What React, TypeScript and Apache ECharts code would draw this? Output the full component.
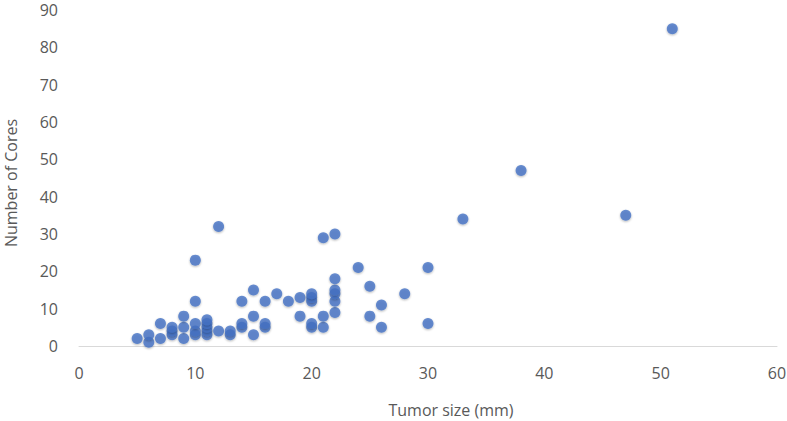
import React, { useEffect, useRef } from "react";
import * as echarts from "echarts";

const tumorSize: number[] = [
  5, 6, 6, 7, 7, 8, 8, 8, 9, 9, 9,
  10, 10, 10, 10, 10,
  11, 11, 11, 11, 11,
  12, 12, 13, 13,
  14, 14, 14, 15, 15, 15,
  16, 16, 16, 17, 18, 19, 19,
  20, 20, 20, 20, 20,
  21, 21, 21,
  22, 22, 22, 22, 22, 22,
  24, 25, 25, 26, 26, 28, 30, 30,
  33, 38, 47, 51,
];
const numberOfCores: number[] = [
  2, 1, 3, 2, 6, 3, 4, 5, 2, 5, 8,
  3, 4, 6, 12, 23,
  3, 4, 5, 6, 7,
  4, 32, 3, 4,
  5, 6, 12, 3, 8, 15,
  5, 6, 12, 14, 12, 8, 13,
  5, 6, 12, 13, 14,
  5, 8, 29,
  9, 12, 14, 15, 18, 30,
  21, 8, 16, 5, 11, 14, 6, 21,
  34, 47, 35, 85,
];

const xTitle = "Tumor size (mm)";
const yTitle = "Number of Cores";

export default function App() {
  const ref = useRef<HTMLDivElement>(null);
  useEffect(() => {
    if (!ref.current) return;
    const chart = echarts.init(ref.current, undefined, { renderer: "svg" });
    const font = "'Open Sans', 'Liberation Sans', Arial, sans-serif";
    chart.setOption({
      animation: false,
      grid: {
        left: 79,
        right: 10,
        top: 10,
        bottom: 75,
        containLabel: false,
        outerBoundsMode: "none",
      },
      xAxis: {
        type: "value",
        min: 0,
        max: 60,
        interval: 10,
        name: xTitle,
        nameLocation: "middle",
        nameGap: 56,
        nameTextStyle: {
          color: "#595959",
          fontSize: 16,
          fontFamily: font,
          padding: [0, 0, 0, 46],
        },
        axisLine: { show: true, lineStyle: { color: "#d9d9d9", width: 1 } },
        axisTick: { show: false },
        splitLine: { show: false },
        axisLabel: { color: "#595959", fontSize: 16, fontFamily: font, margin: 19 },
      },
      yAxis: {
        type: "value",
        min: 0,
        max: 90,
        interval: 10,
        name: yTitle,
        nameLocation: "middle",
        nameGap: 60,
        nameTextStyle: {
          color: "#595959",
          fontSize: 16,
          lineHeight: 16,
          fontFamily: font,
          padding: [0, 10, 0, 0],
        },
        axisLine: { show: false },
        axisTick: { show: false },
        splitLine: { show: false },
        axisLabel: {
          color: "#595959",
          fontSize: 16,
          lineHeight: 16,
          fontFamily: font,
          margin: 21,
        },
      },
      series: [
        {
          type: "scatter",
          symbol: "circle",
          symbolSize: 11,
          data: tumorSize.map((x, i) => [x, numberOfCores[i]]),
          itemStyle: {
            color: "#4472C4",
            shadowColor: "rgba(0,0,0,0.35)",
            shadowBlur: 2,
            shadowOffsetY: 1,
          },
        },
      ],
    });
    return () => chart.dispose();
  }, []);
  return (
    <div
      ref={ref}
      style={{ position: "fixed", left: 0, top: 0, width: 787, height: 421, background: "#fff" }}
    />
  );
}
